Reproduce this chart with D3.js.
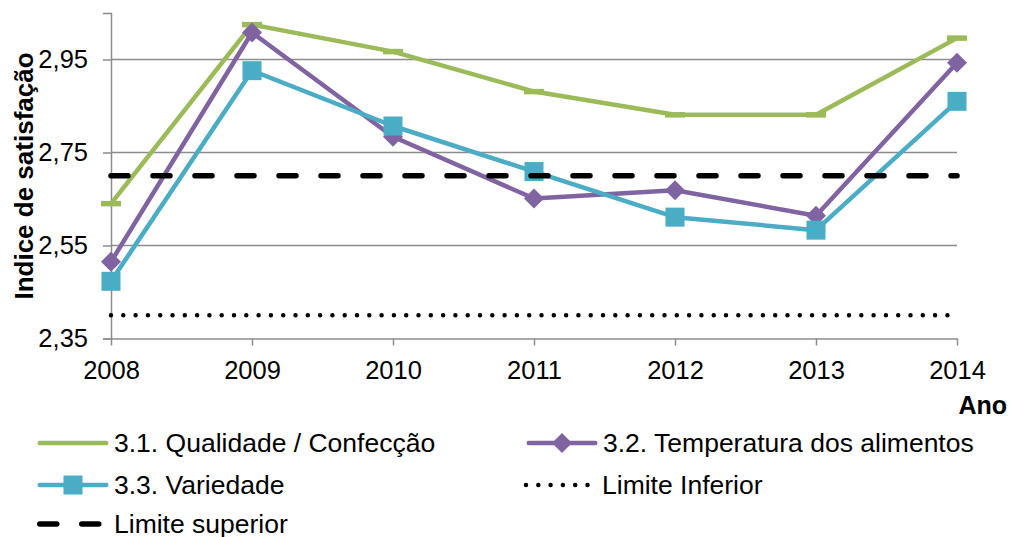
<!DOCTYPE html>
<html>
<head>
<meta charset="utf-8">
<script src="https://cdn.jsdelivr.net/npm/d3@7"></script>
<style>
  body { margin: 0; background: #fff; }
  svg { font-family: "Liberation Sans", Arial, sans-serif; }
</style>
</head>
<body>
<div id="chart"></div>
<script>
// Values
const years = ['2008', '2009', '2010', '2011', '2012', '2013', '2014'];
const qualidade = [2.64, 3.025, 2.967, 2.881, 2.831, 2.831, 2.996];
const temperatura = [2.515, 3.008, 2.784, 2.651, 2.669, 2.614, 2.943];
const variedade = [2.473, 2.926, 2.807, 2.709, 2.611, 2.583, 2.86];
const limiteInferior = [2.4, 2.4, 2.4, 2.4, 2.4, 2.4, 2.4];
const limiteSuperior = [2.7, 2.7, 2.7, 2.7, 2.7, 2.7, 2.7];
const yTicks = [2.35, 2.55, 2.75, 2.95];

(function() {
    const width = 1011, height = 537;
    const margin = {top: 13, right: 54, bottom: 198.5, left: 111};
    const plotW = width - margin.left - margin.right;
    const plotH = height - margin.top - margin.bottom;

    const svg = d3.select('#chart')
        .append('svg')
        .attr('width', width)
        .attr('height', height);

    const g = svg.append('g')
        .attr('transform', `translate(${margin.left},${margin.top})`);

    // Scales
    const x = d3.scalePoint()
        .domain(years)
        .range([0, plotW]);

    const y = d3.scaleLinear()
        .domain([2.35, 3.05])
        .range([plotH, 0]);

    // Gridlines
    g.append('g')
        .selectAll('line')
        .data(yTicks.slice(1))
        .enter()
        .append('line')
        .attr('x1', 0)
        .attr('x2', plotW)
        .attr('y1', d => y(d))
        .attr('y2', d => y(d))
        .attr('stroke', '#8c8c8c')
        .attr('stroke-width', 1.5);

    // Y axis
    const yAxis = g.append('g')
        .call(d3.axisLeft(y)
            .tickValues(yTicks)
            .tickSize(8)
            .tickPadding(15)
            .tickFormat(d => d3.format('.2f')(d).replace('.', ',')));
    yAxis.select('.domain').attr('stroke', '#8c8c8c').attr('stroke-width', 1.5);
    yAxis.selectAll('.tick line').attr('stroke', '#8c8c8c').attr('stroke-width', 1.5);
    yAxis.selectAll('text')
        .attr('font-size', 25.5)
        .attr('font-family', '"Liberation Sans", Arial, sans-serif')
        .attr('fill', '#000');

    // X axis
    const xAxis = g.append('g')
        .attr('transform', `translate(0,${plotH})`)
        .call(d3.axisBottom(x).tickSize(7).tickPadding(15).tickSizeOuter(0));
    xAxis.select('.domain').attr('stroke', '#8c8c8c').attr('stroke-width', 1.5);
    xAxis.selectAll('.tick line').attr('stroke', '#8c8c8c').attr('stroke-width', 1.5);
    xAxis.selectAll('text')
        .attr('font-size', 25.5)
        .attr('font-family', '"Liberation Sans", Arial, sans-serif')
        .attr('fill', '#000');

    // Axis titles
    svg.append('text')
        .attr('transform', `translate(33,176) rotate(-90)`)
        .attr('text-anchor', 'middle')
        .attr('font-size', 26)
        .attr('font-weight', 'bold')
        .text('Indice de satisfação');

    svg.append('text')
        .attr('x', 1007)
        .attr('y', 414)
        .attr('text-anchor', 'end')
        .attr('font-size', 25)
        .attr('font-weight', 'bold')
        .text('Ano');

    const series = [
        {name: '3.1. Qualidade / Confecção', values: qualidade, color: '#9BBB59', marker: 'dash'},
        {name: '3.2. Temperatura dos alimentos', values: temperatura, color: '#8064A2', marker: 'diamond'},
        {name: '3.3. Variedade', values: variedade, color: '#4BACC6', marker: 'square'},
        {name: 'Limite Inferior', values: limiteInferior, color: '#000', style: 'dot'},
        {name: 'Limite superior', values: limiteSuperior, color: '#000', style: 'dash'}
    ];

    const line = d3.line()
        .x((d, i) => x(years[i]))
        .y(d => y(d));

    function applyStyle(sel, s) {
        sel.attr('fill', 'none')
            .attr('stroke', s.color)
            .attr('stroke-linejoin', 'round');
        if (s.style === 'dot') {
            sel.attr('stroke-width', 4.5)
                .attr('stroke-linecap', 'round')
                .attr('stroke-dasharray', '0,12.3');
        } else if (s.style === 'dash') {
            sel.attr('stroke-width', 5.5)
                .attr('stroke-linecap', 'round')
                .attr('stroke-dasharray', '17,25');
        } else {
            sel.attr('stroke-width', 4.5)
                .attr('stroke-linecap', 'round');
        }
    }

    function drawMarker(parent, s, cx, cy) {
        if (s.marker === 'dash') {
            parent.append('rect')
                .attr('x', cx - 10).attr('y', cy - 2.75)
                .attr('width', 20).attr('height', 5.5)
                .attr('fill', s.color);
        } else if (s.marker === 'diamond') {
            parent.append('path')
                .attr('d', `M${cx},${cy - 10}L${cx + 10},${cy}L${cx},${cy + 10}L${cx - 10},${cy}Z`)
                .attr('fill', s.color);
        } else if (s.marker === 'square') {
            parent.append('rect')
                .attr('x', cx - 9.5).attr('y', cy - 9.5)
                .attr('width', 19).attr('height', 19)
                .attr('fill', s.color);
        }
    }

    // Draw series
    series.forEach(s => {
        const sg = g.append('g');
        sg.append('path')
            .datum(s.values)
            .attr('d', line)
            .call(applyStyle, s);
        if (s.marker) {
            s.values.forEach((v, i) => drawMarker(sg, s, x(years[i]), y(v)));
        }
    });

    // Legend
    const legendPos = [
        {x: 37, y: 443},
        {x: 526, y: 443},
        {x: 37, y: 485},
        {x: 526, y: 485},
        {x: 37, y: 524}
    ];
    const legend = svg.append('g');
    series.forEach((s, i) => {
        const p = legendPos[i];
        const lg = legend.append('g');
        const len = s.style ? 66 : 72;
        lg.append('path')
            .attr('d', `M${p.x + (s.style === 'dot' ? 0 : 2.75)},${p.y}H${p.x + len - (s.style === 'dot' ? 2 : 2.75)}`)
            .call(applyStyle, s);
        if (s.marker && s.marker !== 'dash') {
            drawMarker(lg, s, p.x + 36, p.y);
        }
        lg.append('text')
            .attr('x', p.x + (s.style === 'dot' ? 76 : 77))
            .attr('y', p.y + 8.5)
            .attr('font-size', 26.5)
            .text(s.name);
    });
})();
</script>
</body>
</html>
